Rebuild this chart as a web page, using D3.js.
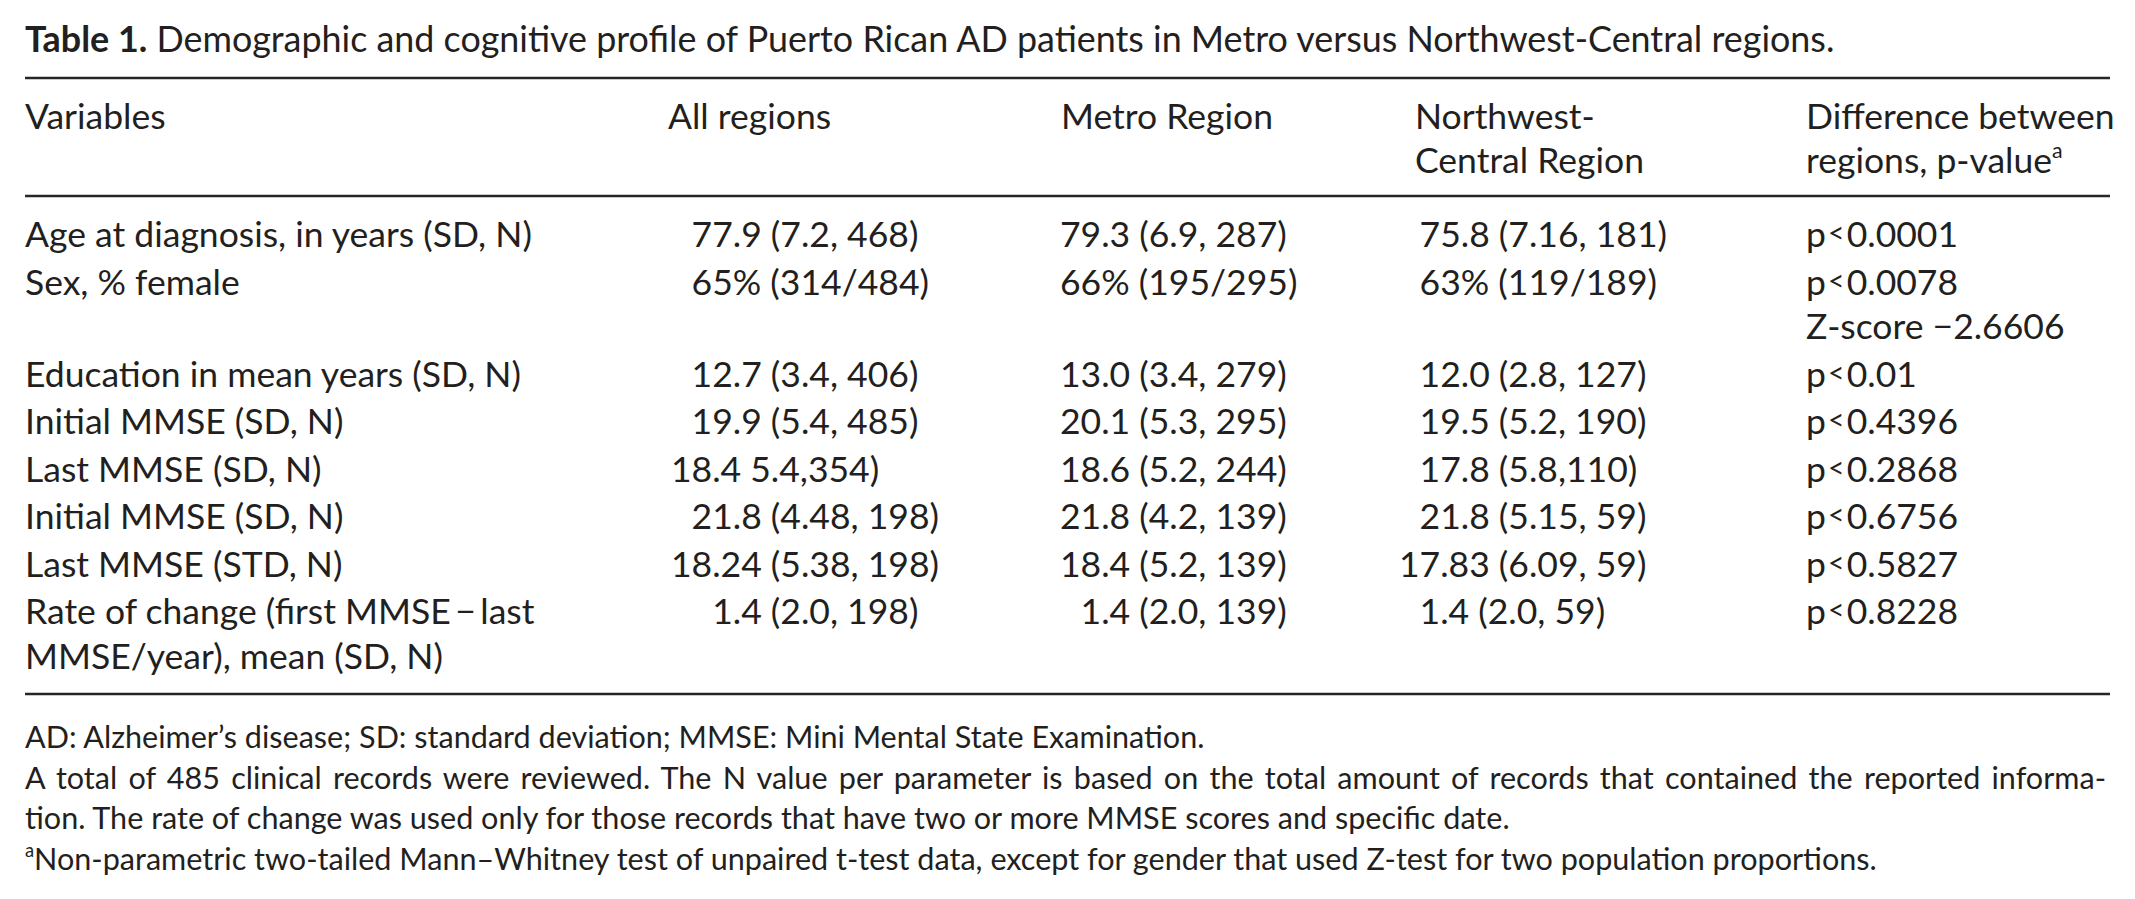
<!DOCTYPE html>
<html>
<head>
<meta charset="utf-8">
<script src="https://cdn.jsdelivr.net/npm/d3@7"></script>
<style>
  body { margin: 0; background: #fff; }
  svg { display: block; }
</style>
</head>
<body>
<script>
// ---------------- DATA ----------------
const FS = "\u2007"; // figure space used by the source table for alignment

const titleLabel = "Table 1.";
const titleText = "Demographic and cognitive profile of Puerto Rican AD patients in Metro versus Northwest-Central regions.";

const headers = [
  ["Variables"],
  ["All regions"],
  ["Metro Region"],
  ["Northwest-", "Central Region"],
  ["Difference between", "regions, p-value^a"]
];

const variables = [
  ["Age at diagnosis, in years (SD, N)"],
  ["Sex, % female"],
  ["Education in mean years (SD, N)"],
  ["Initial MMSE (SD, N)"],
  ["Last MMSE (SD, N)"],
  ["Initial MMSE (SD, N)"],
  ["Last MMSE (STD, N)"],
  ["Rate of change (first MMSE\u2009\u2212\u2009last", "MMSE/year), mean (SD, N)"]
];

const allRegions = [
  FS + "77.9 (7.2, 468)",
  FS + "65% (314/484)",
  FS + "12.7 (3.4, 406)",
  FS + "19.9 (5.4, 485)",
  "18.4 5.4,354)",
  FS + "21.8 (4.48, 198)",
  "18.24 (5.38, 198)",
  FS + FS + "1.4 (2.0, 198)"
];

const metroRegion = [
  "79.3 (6.9, 287)",
  "66% (195/295)",
  "13.0 (3.4, 279)",
  "20.1 (5.3, 295)",
  "18.6 (5.2, 244)",
  "21.8 (4.2, 139)",
  "18.4 (5.2, 139)",
  FS + "1.4 (2.0, 139)"
];

const northwestCentral = [
  FS + "75.8 (7.16, 181)",
  FS + "63% (119/189)",
  FS + "12.0 (2.8, 127)",
  FS + "19.5 (5.2, 190)",
  FS + "17.8 (5.8,110)",
  FS + "21.8 (5.15, 59)",
  "17.83 (6.09, 59)",
  FS + "1.4 (2.0, 59)"
];

const pValues = ["0.0001", "0.0078", "0.01", "0.4396", "0.2868", "0.6756", "0.5827", "0.8228"];
const pExtra = [null, "Z-score \u22122.6606", null, null, null, null, null, null];

const footnotes = [
  "AD: Alzheimer\u2019s disease; SD: standard deviation; MMSE: Mini Mental State Examination.",
  "A total of 485 clinical records were reviewed. The N value per parameter is based on the total amount of records that contained the reported informa-",
  "tion. The rate of change was used only for those records that have two or more MMSE scores and specific date.",
  "^aNon-parametric two-tailed Mann\u2013Whitney test of unpaired t-test data, except for gender that used Z-test for two population proportions."
];

// ---------------- LAYOUT ----------------
const W = 2135, H = 899;
const FONT = "Lato, 'Open Sans', 'DejaVu Sans', sans-serif";
const INK = "#231f20";
const X0 = 25, X1 = 2110;

const colKeys = ["var", "all", "metro", "nw", "p"];
const headerX = d3.scaleOrdinal().domain(colKeys).range([25, 668, 1061, 1415, 1806]);
const cellX = d3.scaleOrdinal().domain(colKeys).range([25, 671, 1060, 1399, 1806]);

const svg = d3.select("body").append("svg").attr("width", W).attr("height", H);
svg.append("rect").attr("width", W).attr("height", H).attr("fill", "#fff");

function measure(build) {
  const t = svg.append("text").attr("font-family", FONT).attr("font-size", 100);
  build(t);
  const w = t.node().getComputedTextLength();
  t.remove();
  return w;
}

// rich text: ^x -> superscript, "<" -> small raised less-than
function rich(sel, str, fs) {
  const parts = str.split(/(\^[a-z]|<)/).filter(s => s.length);
  let shift = 0;
  let afterLt = false;
  parts.forEach(p => {
    if (p[0] === "^") {
      sel.append("tspan").attr("font-size", fs * 0.6).attr("dy", -0.42 * fs - shift).text(p.slice(1));
      shift = -0.42 * fs;
      afterLt = false;
    } else if (p === "<") {
      sel.append("tspan").attr("font-size", fs * 0.8).attr("dx", 0.06 * fs)
        .attr("dy", -0.1 * fs - shift).text("<");
      shift = -0.1 * fs;
      afterLt = true;
    } else {
      const t = sel.append("tspan").attr("dy", -shift).text(p);
      if (afterLt) t.attr("dx", 0.06 * fs);
      shift = 0;
      afterLt = false;
    }
  });
}

function draw() {
  const bodySize = 100 * 507 / measure(t => t.text(variables[0][0]));
  const footSize = 100 * 1180 / measure(t => t.text(footnotes[0]));
  const titleSize = 100 * 1810 / measure(t => {
    t.append("tspan").attr("font-weight", 700).text(titleLabel);
    t.append("tspan").text(" " + titleText);
  });

  // Title
  const title = svg.append("text")
    .attr("x", X0).attr("y", 52)
    .attr("font-family", FONT).attr("font-size", titleSize).attr("fill", INK);
  title.append("tspan").attr("font-weight", 700).text(titleLabel);
  title.append("tspan").text(" " + titleText);

  // Rules
  const rules = [78, 196, 694];
  svg.selectAll("line.rule").data(rules).enter().append("line")
    .attr("class", "rule")
    .attr("x1", X0).attr("x2", X1)
    .attr("y1", d => d).attr("y2", d => d)
    .attr("stroke", "#262626").attr("stroke-width", 2.4);

  // Header
  const headerBase = 129, headerPitch = 44;
  headers.forEach((lines, i) => {
    lines.forEach((ln, j) => {
      const t = svg.append("text")
        .attr("x", headerX(colKeys[i])).attr("y", headerBase + j * headerPitch)
        .attr("font-family", FONT).attr("font-size", bodySize).attr("fill", INK);
      rich(t, ln, bodySize);
    });
  });

  // Body rows
  const firstBase = 247, rowPitch = 47.5, wrapPitch = 44.5;
  let y = firstBase;
  variables.forEach((v, i) => {
    const cells = [
      { key: "var", lines: v },
      { key: "all", lines: [allRegions[i]] },
      { key: "metro", lines: [metroRegion[i]] },
      { key: "nw", lines: [northwestCentral[i]] },
      { key: "p", lines: ["p<" + pValues[i]].concat(pExtra[i] ? [pExtra[i]] : []) }
    ];
    let maxLines = 1;
    cells.forEach(c => {
      maxLines = Math.max(maxLines, c.lines.length);
      c.lines.forEach((ln, j) => {
        const t = svg.append("text")
          .attr("x", cellX(c.key)).attr("y", y + j * wrapPitch)
          .attr("font-family", FONT).attr("font-size", bodySize).attr("fill", INK);
        rich(t, ln, bodySize);
      });
    });
    y += (maxLines - 1) * wrapPitch + rowPitch;
  });

  // Footnotes
  const footBase = 748, footPitch = 40.5;
  footnotes.forEach((f, i) => {
    const t = svg.append("text")
      .attr("x", X0).attr("y", footBase + i * footPitch)
      .attr("font-family", FONT).attr("font-size", footSize).attr("fill", INK);
    rich(t, f, footSize);
    if (i === 1) {
      // justified line: stretch word spacing to the table width
      const natural = t.node().getComputedTextLength();
      const spaces = (f.match(/ /g) || []).length;
      t.attr("word-spacing", ((X1 - 4) - X0 - natural) / spaces);
    }
  });
}

if (document.fonts && document.fonts.ready) {
  document.fonts.ready.then(draw);
} else {
  draw();
}
</script>
</body>
</html>
